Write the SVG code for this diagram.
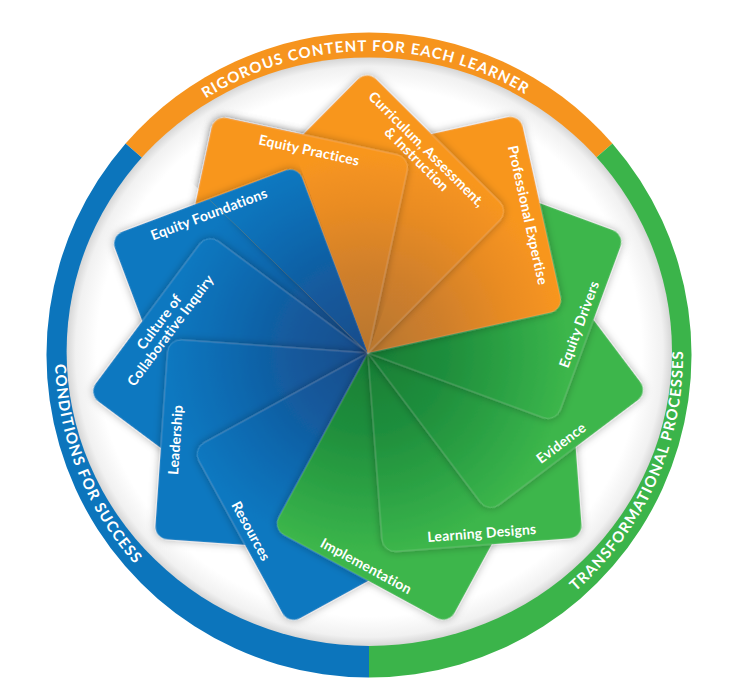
<svg xmlns="http://www.w3.org/2000/svg" xmlns:xlink="http://www.w3.org/1999/xlink" width="736" height="697" viewBox="0 0 736 697">
<defs>
<style>
.ring-txt{font-family:Lato,"Open Sans","Liberation Sans",sans-serif;font-weight:700;font-size:15px;fill:#ffffff;letter-spacing:1.1px}
.lbl{font-family:Lato,"Open Sans","Liberation Sans",sans-serif;font-weight:700;font-size:14px;fill:#ffffff;text-anchor:middle;letter-spacing:0.2px}
.card{stroke:#ffffff;stroke-opacity:0.28;stroke-width:0.7;filter:url(#sh)}
.blue{fill:url(#gB)}
.green{fill:url(#gG)}
.orange{fill:url(#gO)}
</style>
<filter id="sh" x="-20%" y="-20%" width="140%" height="140%">
<feDropShadow dx="0" dy="0" stdDeviation="4" flood-color="#000000" flood-opacity="0.33"/>
</filter>
<radialGradient id="gB" cx="0" cy="0" r="1">
<stop offset="0" stop-color="#1a4c8b"/>
<stop offset="0.4" stop-color="#135a9d"/>
<stop offset="0.75" stop-color="#0c6cb3"/>
<stop offset="1" stop-color="#0a78c0"/>
</radialGradient>
<radialGradient id="gG" cx="0" cy="0" r="1">
<stop offset="0" stop-color="#177d35"/>
<stop offset="0.4" stop-color="#1f8e3c"/>
<stop offset="0.75" stop-color="#2ea545"/>
<stop offset="1" stop-color="#3cb64b"/>
</radialGradient>
<radialGradient id="gO" cx="0" cy="0" r="1">
<stop offset="0" stop-color="#b7762f"/>
<stop offset="0.4" stop-color="#cf7f2c"/>
<stop offset="0.75" stop-color="#ea8c22"/>
<stop offset="1" stop-color="#f8961f"/>
</radialGradient>
<radialGradient id="inner" cx="0.5" cy="0.5" r="0.5">
<stop offset="0.9" stop-color="#ffffff"/>
<stop offset="0.97" stop-color="#f1f1f1"/>
<stop offset="1" stop-color="#d6d6d6"/>
</radialGradient>
<clipPath id="wedgeEP" clipPathUnits="userSpaceOnUse">
<polygon points="368,353 80.3,75.1 278,-36.7 504.8,-22.9"/>
</clipPath>
<clipPath id="wedgeEF" clipPathUnits="userSpaceOnUse">
<polygon points="368,353 80.3,75.1 231.2,-22.9"/>
</clipPath>
<path id="arcTop" d="M105.73 203 A304 304 0 0 1 632.27 203"/>
<path id="arcRight" d="M423.53 664.23 A314 314 0 0 0 609.54 153.17"/>
<path id="arcLeft" d="M128.46 153.17 A314 314 0 0 0 314.47 664.23"/>
</defs>
<rect width="736" height="697" fill="#ffffff"/>
<g id="ring">
<path d="M369 355 L125.6 143.4 A322.5 322.5 0 0 1 612.4 143.4 Z" fill="#f6941e"/>
<path d="M369 355 L612.4 143.4 A322.5 322.5 0 0 1 369 677.5 Z" fill="#3bb44a"/>
<path d="M369 355 L369 677.5 A322.5 322.5 0 0 1 125.6 143.4 Z" fill="#0c75bc"/>
<ellipse cx="369.3" cy="351.7" rx="302.7" ry="294.3" fill="url(#inner)"/>
<text class="ring-txt"><textPath href="#arcTop" startOffset="49.4%" text-anchor="middle">RIGOROUS CONTENT FOR EACH LEARNER</textPath></text>
<text class="ring-txt"><textPath href="#arcRight" startOffset="46.67%" text-anchor="middle">TRANSFORMATIONAL PROCESSES</textPath></text>
<text class="ring-txt"><textPath href="#arcLeft" startOffset="51.5%" text-anchor="middle">CONDITIONS FOR SUCCESS</textPath></text>
</g>
<g id="card-equity-practices" transform="translate(368 353) rotate(-167.9)">
<path class="card orange" d="M0 0 H187 A13 13 0 0 1 200 13 V187 A13 13 0 0 1 187 200 H13 A13 13 0 0 1 0 187 Z"/>
<text class="lbl" x="100" y="193" transform="rotate(180 100 187)">Equity Practices</text>
</g>
<g id="card-equity-foundations" transform="translate(368 353) rotate(159.4)">
<path class="card blue" d="M0 0 H187 A13 13 0 0 1 200 13 V187 A13 13 0 0 1 187 200 H13 A13 13 0 0 1 0 187 Z"/>
<text class="lbl" x="100" y="193" transform="rotate(180 100 187)">Equity Foundations</text>
</g>
<g id="card-culture" transform="translate(368 353) rotate(126.7)">
<path class="card blue" d="M0 0 H187 A13 13 0 0 1 200 13 V187 A13 13 0 0 1 187 200 H13 A13 13 0 0 1 0 187 Z"/>
<text class="lbl" x="100" y="193" transform="rotate(180 100 187)"><tspan x="100">Culture of</tspan><tspan x="100" dy="14">Collaborative Inquiry</tspan></text>
</g>
<g id="card-leadership" transform="translate(368 353) rotate(94)">
<path class="card blue" d="M0 0 H187 A13 13 0 0 1 200 13 V187 A13 13 0 0 1 187 200 H13 A13 13 0 0 1 0 187 Z"/>
<text class="lbl" x="100" y="193" transform="rotate(180 100 187)">Leadership</text>
</g>
<g id="card-resources" transform="translate(368 353) rotate(61.3)">
<path class="card blue" d="M0 0 H187 A13 13 0 0 1 200 13 V187 A13 13 0 0 1 187 200 H13 A13 13 0 0 1 0 187 Z"/>
<text class="lbl" x="100" y="193">Resources</text>
</g>
<g id="card-implementation" transform="translate(368 353) rotate(28.5)">
<path class="card green" d="M0 0 H187 A13 13 0 0 1 200 13 V187 A13 13 0 0 1 187 200 H13 A13 13 0 0 1 0 187 Z"/>
<text class="lbl" x="100" y="193">Implementation</text>
</g>
<g id="card-learning-designs" transform="translate(368 353) rotate(-4.3)">
<path class="card green" d="M0 0 H187 A13 13 0 0 1 200 13 V187 A13 13 0 0 1 187 200 H13 A13 13 0 0 1 0 187 Z"/>
<text class="lbl" x="100" y="193">Learning Designs</text>
</g>
<g id="card-evidence" transform="translate(368 353) rotate(-37)">
<path class="card green" d="M0 0 H187 A13 13 0 0 1 200 13 V187 A13 13 0 0 1 187 200 H13 A13 13 0 0 1 0 187 Z"/>
<text class="lbl" x="100" y="193">Evidence</text>
</g>
<g id="card-equity-drivers" transform="translate(368 353) rotate(-69.75)">
<path class="card green" d="M0 0 H187 A13 13 0 0 1 200 13 V187 A13 13 0 0 1 187 200 H13 A13 13 0 0 1 0 187 Z"/>
<text class="lbl" x="100" y="193">Equity Drivers</text>
</g>
<g id="card-professional-expertise" transform="translate(368 353) rotate(-102.5)">
<path class="card orange" d="M0 0 H187 A13 13 0 0 1 200 13 V187 A13 13 0 0 1 187 200 H13 A13 13 0 0 1 0 187 Z"/>
<text class="lbl" x="100" y="193" transform="rotate(180 100 187)">Professional Expertise</text>
</g>
<g id="card-curriculum" transform="translate(368 353) rotate(-135.2)">
<path class="card orange" d="M0 0 H187 A13 13 0 0 1 200 13 V187 A13 13 0 0 1 187 200 H13 A13 13 0 0 1 0 187 Z"/>
<text class="lbl" x="100" y="193" transform="rotate(180 100 187)"><tspan x="98">Curriculum, Assessment,</tspan><tspan x="98" dy="14">&amp; Instruction</tspan></text>
</g>
<g id="overlap-equity-practices" clip-path="url(#wedgeEP)">
<use href="#card-equity-practices"/>
</g>
<g id="overlap-equity-foundations" clip-path="url(#wedgeEF)">
<use href="#card-equity-foundations"/>
</g>
</svg>
